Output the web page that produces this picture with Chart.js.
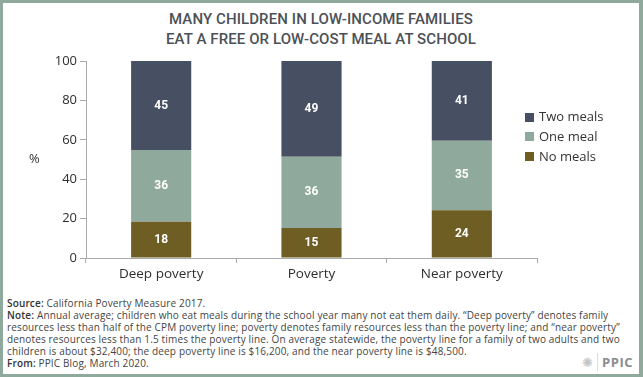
<!DOCTYPE html>
<html>
<head>
<meta charset="utf-8">
<script src="https://cdn.jsdelivr.net/npm/chart.js@4.4.1/dist/chart.umd.min.js"></script>
<style>
    html, body { margin: 0; padding: 0; background: #fff; }
    #frame {
        position: relative; width: 643px; height: 377px; box-sizing: border-box;
        border: 3px solid #8fa99c; border-right-width: 4px; overflow: hidden;
        font-family: Roboto, "Open Sans", sans-serif; color: #333;
    }
    #title {
        position: absolute; left: 0; top: 6px; width: 636px; text-align: center;
        font-size: 15px; font-weight: 500; line-height: 20px; color: #4b5157; letter-spacing: 0.1px;
    }
    #wrap { position: absolute; left: -3px; top: 39px; width: 643px; height: 240px; }
    #ylab { position: absolute; left: 26px; top: 146px; font-size: 13px; color: #333; font-family: "Open Sans", sans-serif; }
    #legend { position: absolute; left: 522px; top: 104px; font-size: 13px; color: #333; font-family: "Open Sans", sans-serif; font-weight: 500; }
    #legend div { height: 19.8px; line-height: 19.8px; white-space: nowrap; }
    #legend span.sw { display: inline-block; width: 9px; height: 9px; margin-right: 5px; vertical-align: -0.5px; }
    #notes {
        position: absolute; left: 4px; top: 294px; font-family: "Open Sans", sans-serif;
        font-size: 10px; line-height: 12px; color: #444; white-space: nowrap; letter-spacing: 0.15px;
    }
    #notes p { margin: 0; }
    #notes b { font-weight: 600; color: #333; }
    #logo { position: absolute; right: 6px; bottom: 3px; font-size: 13px; font-weight: 700; color: #8a8c8e; letter-spacing: 0.5px; font-family: "Open Sans", sans-serif; }
    #logo .star { color: #c4c6c8; font-weight: 400; padding-right: 4px; margin-right: 4px; border-right: 1px solid #ddd; }
</style>
</head>
<body>
<div id="frame">
    <div id="title">MANY CHILDREN IN LOW-INCOME FAMILIES<br>EAT A FREE OR LOW-COST MEAL AT SCHOOL</div>
    <div id="wrap"><canvas id="chart"></canvas></div>
    <div id="ylab">%</div>
    <div id="legend"></div>
    <div id="notes">
        <p><b>Source:</b> California Poverty Measure 2017.</p>
        <p><b>Note:</b> Annual average; children who eat meals during the school year many not eat them daily. “Deep poverty” denotes family<br>resources less than half of the CPM poverty line; poverty denotes family resources less than the poverty line; and “near poverty”<br>denotes resources less than 1.5 times the poverty line. On average statewide, the poverty line for a family of two adults and two<br>children is about $32,400; the deep poverty line is $16,200, and the near poverty line is $48,500.</p>
        <p><b>From:</b> PPIC Blog, March 2020.</p>
    </div>
    <div id="logo"><span class="star">✺</span>PPIC</div>
</div>
<script>
const categories = ['Deep poverty', 'Poverty', 'Near poverty'];
// shares; labels are the rounded values
const noMeals = [18.4, 15.2, 24.3];
const oneMeal = [36.4, 36.2, 35.2];
const twoMeals = [45.2, 48.6, 40.5];
const yTicks = [0, 20, 40, 60, 80, 100];

const COLORS = { none: '#6f5e24', one: '#8fa99c', two: '#465062' };

const series = [
    { label: 'No meals', data: noMeals, color: COLORS.none },
    { label: 'One meal', data: oneMeal, color: COLORS.one },
    { label: 'Two meals', data: twoMeals, color: COLORS.two },
];

// legend, top entry = top of stack
const legendEl = document.getElementById('legend');
series.slice().reverse().forEach((s) => {
    const row = document.createElement('div');
    row.innerHTML = '<span class="sw" style="background:' + s.color + '"></span>' + s.label;
    legendEl.appendChild(row);
});

const valueLabels = {
    id: 'valueLabels',
    afterDatasetsDraw(chart) {
        const { ctx } = chart;
        ctx.save();
        ctx.font = '700 12px Roboto, sans-serif';
        ctx.fillStyle = '#fff';
        ctx.textAlign = 'center';
        ctx.textBaseline = 'middle';
        chart.data.datasets.forEach((ds, i) => {
            chart.getDatasetMeta(i).data.forEach((bar, j) => {
                const mid = (bar.y + bar.base) / 2;
                ctx.fillText(String(Math.round(ds.data[j])), bar.x, mid);
            });
        });
        ctx.restore();
    },
};

new Chart(document.getElementById('chart'), {
    type: 'bar',
    data: {
        labels: categories,
        datasets: series.map((s) => ({
            label: s.label,
            data: s.data,
            backgroundColor: s.color,
            borderWidth: 0,
            categoryPercentage: 1,
            barPercentage: 0.4,
        })),
    },
    options: {
        responsive: true,
        maintainAspectRatio: false,
        animation: false,
        layout: { padding: { top: 19, left: 0, right: 106, bottom: 0 } },
        plugins: { legend: { display: false }, tooltip: { enabled: false } },
        scales: {
            x: {
                stacked: true,
                afterFit: (s) => { s.height = 24; },
                border: { color: '#aaa', width: 1 },
                grid: { drawOnChartArea: false, tickLength: 5, color: '#aaa', offset: true },
                ticks: { color: '#2e2e2e', font: { size: 13.5, weight: 500, family: '"Open Sans", sans-serif' }, padding: 3 },
            },
            y: {
                stacked: true,
                min: 0,
                max: 100,
                afterFit: (s) => { s.width = 86; },
                afterBuildTicks: (s) => { s.ticks = yTicks.map((v) => ({ value: v })); },
                border: { color: '#aaa', width: 1 },
                grid: { drawOnChartArea: false, tickLength: 6, color: '#aaa' },
                ticks: { color: '#2e2e2e', font: { size: 13, weight: 500, family: '"Open Sans", sans-serif' }, padding: 3 },
            },
        },
    },
    plugins: [valueLabels],
});
</script>
</body>
</html>
